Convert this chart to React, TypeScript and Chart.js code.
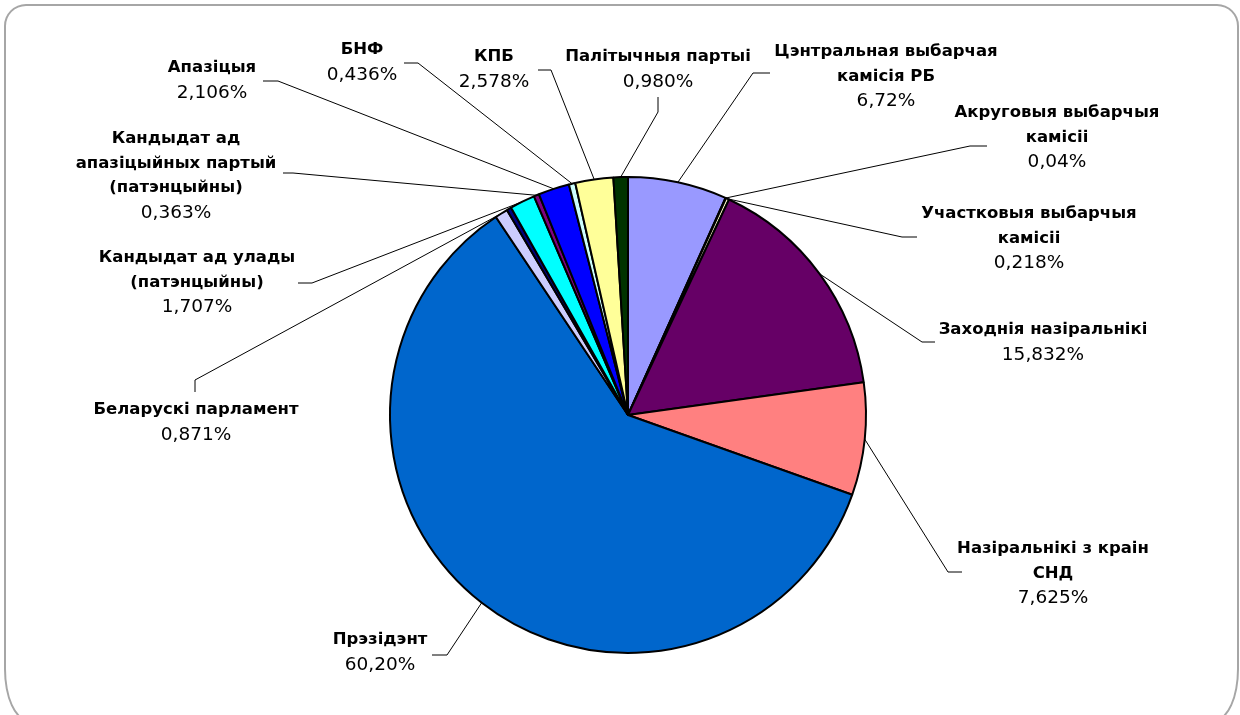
import React, { useEffect, useRef } from "react";
import { Chart, registerables } from "chart.js";

Chart.register(...registerables);

// Slices clockwise from 12 o'clock
const categories = [
  "Цэнтральная выбарчая\nкамісія РБ",
  "Акруговыя выбарчыя\nкамісіі",
  "Участковыя выбарчыя\nкамісіі",
  "Заходнія назіральнікі",
  "Назіральнікі з краін\nСНД",
  "Прэзідэнт",
  "Беларускі парламент",
  "",
  "Кандыдат ад улады\n(патэнцыйны)",
  "Кандыдат ад\nапазіцыйных партый\n(патэнцыйны)",
  "Апазіцыя",
  "БНФ",
  "КПБ",
  "Палітычныя партыі",
];

const values = [6.72, 0.04, 0.218, 15.832, 7.625, 60.2, 0.871, 0.324, 1.707, 0.363, 2.106, 0.436, 2.578, 0.98];

const percentLabels = [
  "6,72%", "0,04%", "0,218%", "15,832%", "7,625%", "60,20%", "0,871%", "",
  "1,707%", "0,363%", "2,106%", "0,436%", "2,578%", "0,980%",
];

const colors = [
  "#9999FF", "#993366", "#FFFFCC", "#660066", "#FF8080", "#0066CC", "#CCCCFF",
  "#000080", "#00FFFF", "#800080", "#0000FF", "#CCFFFF", "#FFFF99", "#003300",
];

// Label layout: text centre x, first line centre y, leader elbow and stub end
type Lay = { x: number; y: number; elbow: [number, number]; stub: [number, number] } | null;
const labelLayout: Lay[] = [
  { x: 886, y: 52, elbow: [753, 73], stub: [770, 73] },
  { x: 1057, y: 113, elbow: [970, 146], stub: [987, 146] },
  { x: 1029, y: 214, elbow: [902, 237], stub: [917, 237] },
  { x: 1043, y: 330, elbow: [922, 342], stub: [935, 342] },
  { x: 1053, y: 549, elbow: [948, 572], stub: [962, 572] },
  { x: 380, y: 640, elbow: [447, 655], stub: [432, 655] },
  { x: 196, y: 410, elbow: [195, 380], stub: [195, 392] },
  null,
  { x: 197, y: 258, elbow: [312, 283], stub: [298, 283] },
  { x: 176, y: 139, elbow: [293, 173], stub: [283, 173] },
  { x: 212, y: 68, elbow: [278, 81], stub: [263, 81] },
  { x: 362, y: 50, elbow: [418, 63], stub: [404, 63] },
  { x: 494, y: 57, elbow: [551, 70], stub: [538, 70] },
  { x: 658, y: 57, elbow: [658, 112], stub: [658, 97] },
];

const LINE_H = 24.3;
const FONT = "'DejaVu Sans', Verdana, sans-serif";

const outLabels = {
  id: "outLabels",
  afterDatasetsDraw(chart: any) {
    const ctx = chart.ctx as CanvasRenderingContext2D;
    const meta = chart.getDatasetMeta(0);
    ctx.save();
    meta.data.forEach((arc: any, i: number) => {
      const lay = labelLayout[i];
      if (!lay) return;
      const p = arc.getProps(["x", "y", "startAngle", "endAngle", "outerRadius"], true);
      const mid = (p.startAngle + p.endAngle) / 2;
      const px = p.x + Math.cos(mid) * p.outerRadius;
      const py = p.y + Math.sin(mid) * p.outerRadius;
      ctx.strokeStyle = "#000";
      ctx.lineWidth = 1;
      ctx.beginPath();
      ctx.moveTo(px, py);
      ctx.lineTo(lay.elbow[0], lay.elbow[1]);
      ctx.lineTo(lay.stub[0], lay.stub[1]);
      ctx.stroke();

      const lines = categories[i].split("\n");
      ctx.fillStyle = "#000";
      ctx.textAlign = "center";
      ctx.textBaseline = "middle";
      ctx.font = `bold 16.5px ${FONT}`;
      lines.forEach((t, k) => {
        ctx.fillText(t, lay.x, lay.y + k * LINE_H);
      });
      ctx.font = `18.5px ${FONT}`;
      ctx.fillText(percentLabels[i], lay.x, lay.y + lines.length * LINE_H + 1);
    });
    ctx.restore();
  },
};

export default function App() {
  const ref = useRef<HTMLCanvasElement>(null);
  useEffect(() => {
    const chart = new Chart(ref.current!, {
      type: "pie",
      data: {
        labels: categories,
        datasets: [
          {
            data: values,
            backgroundColor: colors,
            borderColor: "#000",
            borderWidth: 2,
          },
        ],
      },
      options: {
        responsive: false,
        animation: false,
        layout: { padding: { left: 389, right: 373, top: 176, bottom: 61 } },
        plugins: { legend: { display: false }, tooltip: { enabled: false } },
      },
      plugins: [outLabels],
    });
    return () => chart.destroy();
  }, []);
  return (
    <div style={{ position: "absolute", left: 0, top: 0, width: 1240, height: 715, overflow: "hidden", background: "#fff" }}>
      <div
        style={{
          position: "absolute",
          left: 4,
          top: 4,
          width: 1235,
          height: 717,
          border: "2px solid #a6a6a6",
          borderTopLeftRadius: 22,
          borderTopRightRadius: 22,
          borderBottomLeftRadius: "24px 52px",
          borderBottomRightRadius: "24px 52px",
          boxSizing: "border-box",
        }}
      />
      <canvas ref={ref} width={1240} height={715} style={{ position: "absolute", left: 0, top: 0 }} />
    </div>
  );
}
